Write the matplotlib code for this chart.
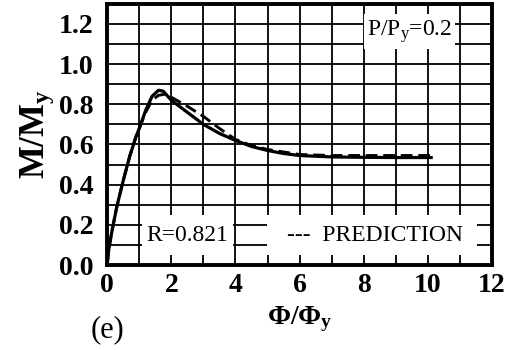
import matplotlib
matplotlib.use("Agg")
import matplotlib.pyplot as plt
from matplotlib.patches import Rectangle
import numpy as np

# Experimental (solid) curve
x_exp = [0.0, 0.05, 0.15, 0.3, 0.5, 0.7, 0.9, 1.0, 1.2, 1.4, 1.6, 1.75, 2.0, 2.5, 3.0, 3.5, 4.0, 4.5, 5.0, 5.5, 6.0, 7.0, 8.0, 9.0, 10.1]
y_exp = [0.0, 0.08, 0.17, 0.29, 0.42, 0.54, 0.64, 0.68, 0.77, 0.84, 0.87, 0.865, 0.82, 0.76, 0.70, 0.655, 0.62, 0.59, 0.57, 0.555, 0.545, 0.538, 0.536, 0.535, 0.535]

# Prediction (dashed) curve
x_pred = [0.0, 0.05, 0.15, 0.3, 0.5, 0.7, 0.9, 1.0, 1.2, 1.4, 1.6, 1.8, 2.0, 2.5, 3.0, 3.5, 4.0, 4.5, 5.0, 6.0, 7.0, 8.0, 9.0, 10.1]
y_pred = [0.0, 0.08, 0.17, 0.29, 0.42, 0.54, 0.64, 0.68, 0.76, 0.82, 0.845, 0.85, 0.835, 0.79, 0.74, 0.68, 0.625, 0.595, 0.575, 0.55, 0.545, 0.545, 0.545, 0.545]

x_ticks = [0, 2, 4, 6, 8, 10, 12]
y_ticks = [0.0, 0.2, 0.4, 0.6, 0.8, 1.0, 1.2]

plt.rcParams['font.family'] = ['Liberation Serif', 'DejaVu Serif']
plt.rcParams['mathtext.fontset'] = 'custom'
plt.rcParams['mathtext.rm'] = 'Liberation Serif'
plt.rcParams['mathtext.bf'] = 'Liberation Serif:bold'
plt.rcParams['mathtext.it'] = 'Liberation Serif:italic'

fig = plt.figure(figsize=(5.28, 3.51), dpi=100)
ax = fig.add_axes([0.203, 0.245, 0.729, 0.744])

ax.set_xlim(0, 12)
ax.set_ylim(0, 1.3)
ax.set_xticks(x_ticks)
ax.set_yticks(y_ticks)
ax.set_xticklabels([str(t) for t in x_ticks], fontsize=20, fontweight='bold')
ax.set_yticklabels([f"{t:.1f}" for t in y_ticks], fontsize=20, fontweight='bold')
ax.set_xticks(np.arange(0, 13, 1), minor=True)
ax.set_yticks(np.arange(0, 1.31, 0.1), minor=True)
ax.grid(True, which='both', color='black', linewidth=1.3)
ax.tick_params(axis='y', which='both', length=0, pad=10)
ax.tick_params(axis='x', which='both', length=0, pad=6)
for s in ax.spines.values():
    s.set_linewidth(2.8)

ax.plot(x_exp, y_exp, color='black', linewidth=2.3, zorder=5)
ax.plot(x_pred, y_pred, color='black', linewidth=2.1, linestyle=(0, (4, 2.0)), zorder=5)

# white label boxes
for (x0, y0, w, h) in [(1.08, 0.05, 2.85, 0.2), (4.98, 0.05, 6.55, 0.2), (8.0, 1.075, 2.85, 0.175)]:
    ax.add_patch(Rectangle((x0, y0), w, h, facecolor='white', edgecolor='none', zorder=4))

ax.text(2.5, 0.148, "R=0.821", fontsize=17, ha='center', va='center', zorder=6)
ax.text(8.35, 0.148, "---  PREDICTION", fontsize=17, ha='center', va='center', zorder=6)
ax.text(9.42, 1.16, r"P/P$_\mathregular{y}$=0.2", fontsize=17, ha='center', va='center', zorder=6)

ax.set_ylabel(r"$\mathbf{M/M_y}$", fontsize=25, labelpad=2)
ax.set_xlabel(r"$\mathbf{\Phi/\Phi_y}$", fontsize=20, labelpad=4)
fig.text(0.172, 0.02, "(e)", fontsize=22, ha='left', va='bottom')

fig.savefig("out.png", dpi=100)
